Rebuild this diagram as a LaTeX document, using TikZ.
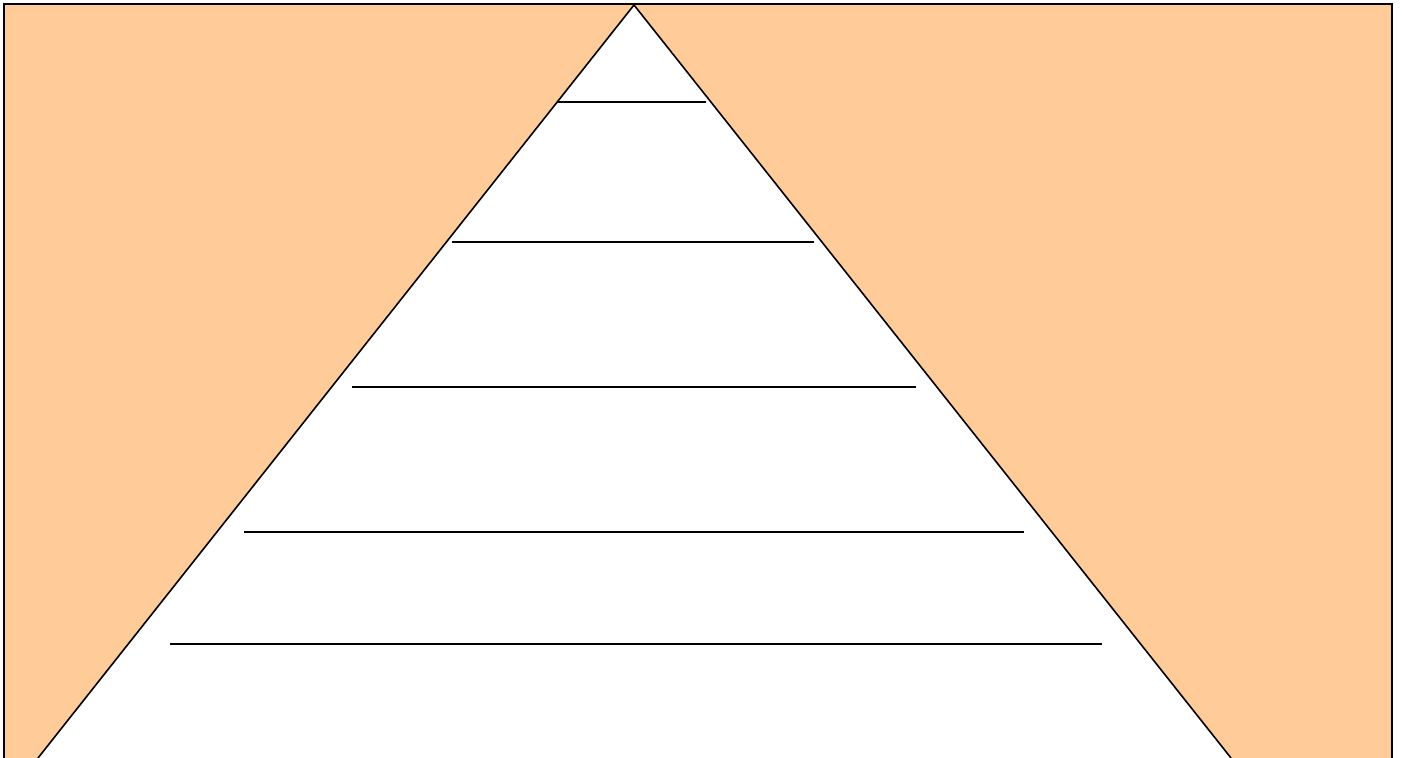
\documentclass[tikz,border=0pt]{standalone}
\definecolor{peach}{HTML}{FFCC99}
\tikzset{frame/.style={line width=0.022cm,black},
  tri/.style={fill=white,draw=black,line width=0.016cm,line join=miter},
  level/.style={line width=0.016cm,black}}
\begin{document}
\begin{tikzpicture}[x=0.01cm,y=-0.01cm]
\useasboundingbox (0,0) rectangle (1403,758);
\fill[peach] (4,4) rectangle (1392,760);
\draw[frame] (4,760) -- (4,4) -- (1392,4) -- (1392,760);
\coordinate (apex) at (634,5);
\coordinate (bl) at (38,758);
\coordinate (br) at (1231,758);
\filldraw[tri] (bl) -- (apex) -- (br);
\coordinate (l1a) at (557,102); \coordinate (l1b) at (706,102);
\coordinate (l2a) at (452,242); \coordinate (l2b) at (814,242);
\coordinate (l3a) at (352,387); \coordinate (l3b) at (916,387);
\coordinate (l4a) at (244,532); \coordinate (l4b) at (1024,532);
\coordinate (l5a) at (170,644); \coordinate (l5b) at (1102,644);
\draw[level] (l1a) -- (l1b);
\draw[level] (l2a) -- (l2b);
\draw[level] (l3a) -- (l3b);
\draw[level] (l4a) -- (l4b);
\draw[level] (l5a) -- (l5b);
\end{tikzpicture}
\end{document}
